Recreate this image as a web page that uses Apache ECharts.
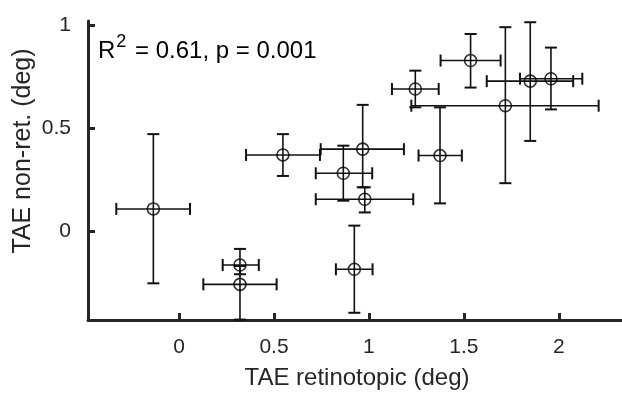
<!DOCTYPE html>
<html>
<head>
<meta charset="utf-8">
<script src="https://cdn.jsdelivr.net/npm/echarts@6/dist/echarts.min.js"></script>
<style>html,body{margin:0;padding:0;background:#fff;}#c{width:622px;height:393px;}</style>
</head>
<body>
<div id="c"></div>
<script>
// Data
var xs   = [-0.135, 0.321, 0.321, 0.547, 0.865, 0.967, 0.978, 0.923, 1.244, 1.374, 1.535, 1.718, 1.849, 1.958];
var ys   = [ 0.107,-0.165,-0.259, 0.369, 0.280, 0.397, 0.154,-0.186, 0.689, 0.366, 0.827, 0.608, 0.727, 0.739];
var xLo  = [-0.330, 0.230, 0.128, 0.353, 0.720, 0.746, 0.720, 0.826, 1.121, 1.261, 1.377, 1.223, 1.620, 1.795];
var xHi  = [ 0.058, 0.420, 0.514, 0.742, 1.017, 1.184, 1.233, 1.019, 1.367, 1.489, 1.693, 2.209, 2.075, 2.123];
var yLo  = [-0.254,-0.210,-0.430, 0.267, 0.147, 0.212, 0.090,-0.397, 0.600, 0.134, 0.696, 0.232, 0.437, 0.590];
var yHi  = [ 0.470,-0.087,-0.170, 0.470, 0.414, 0.612, 0.212, 0.026, 0.778, 0.600, 0.956, 0.989, 1.013, 0.890];
var xTicks = [0, 0.5, 1, 1.5, 2];
var yTicks = [0, 0.5, 1];
var statText = ['R', '2', ' = 0.61, p = 0.001'];
var xTitle = 'TAE retinotopic (deg)';
var yTitle = 'TAE non-ret. (deg)';

var FONT = '"Liberation Sans", Arial, Helvetica, sans-serif';
var AX = '#262626';
var pts = xs.map(function (x, i) { return [x, ys[i]]; });
var errData = xs.map(function (x, i) { return [x, ys[i], xLo[i], xHi[i], yLo[i], yHi[i]]; });

var chart = echarts.init(document.getElementById('c'), null, {renderer: 'canvas'});
chart.setOption({
  animation: false,
  backgroundColor: '#fff',
  grid: {left: 88, right: 0, top: 21, bottom: 73},
  xAxis: {
    type: 'value', min: -0.479, max: 2.332,
    axisLine: {show: true, onZero: false, lineStyle: {color: AX, width: 3}},
    axisTick: {show: true, inside: true, length: 7, lineStyle: {color: AX, width: 3}, customValues: xTicks},
    axisLabel: {color: AX, fontSize: 21, fontFamily: FONT, margin: 17, customValues: xTicks},
    splitLine: {show: false}
  },
  yAxis: {
    type: 'value', min: -0.432, max: 1.019,
    axisLine: {show: true, onZero: false, lineStyle: {color: AX, width: 3}},
    axisTick: {show: true, inside: true, length: 7, lineStyle: {color: AX, width: 3}, customValues: yTicks},
    axisLabel: {color: AX, fontSize: 21, fontFamily: FONT, margin: 17, customValues: yTicks},
    splitLine: {show: false}
  },
  graphic: [
    {type: 'text', x: 357, y: 378, style: {text: xTitle, fill: AX, font: '24px ' + FONT, align: 'center', verticalAlign: 'middle'}},
    {type: 'text', x: 23, y: 151, rotation: Math.PI / 2, style: {text: yTitle, fill: AX, font: '25px ' + FONT, align: 'center', verticalAlign: 'middle'}},
    {type: 'text', x: 98, y: 33, style: {
      text: '{r|' + statText[0] + '}{s|' + statText[1] + '}{r|' + statText[2] + '}',
      rich: {
        r: {fontSize: 24, fontFamily: FONT, fill: '#000', color: '#000', lineHeight: 30, verticalAlign: 'bottom'},
        s: {fontSize: 18, fontFamily: FONT, fill: '#000', color: '#000', lineHeight: 18, verticalAlign: 'top', padding: [0, 2, 0, 1]}
      }
    }}
  ],
  series: [
    {
      type: 'custom',
      data: errData,
      z: 2,
      renderItem: function (params, api) {
        var x = api.value(0), y = api.value(1);
        var pL = api.coord([api.value(2), y]);
        var pR = api.coord([api.value(3), y]);
        var pB = api.coord([x, api.value(4)]);
        var pT = api.coord([x, api.value(5)]);
        var c = 6;
        function ln(x1, y1, x2, y2, w) {
          return {type: 'line', shape: {x1: x1, y1: y1, x2: x2, y2: y2}, style: {stroke: '#111', lineWidth: w || 1.6}};
        }
        return {type: 'group', children: [
          ln(pL[0], pL[1], pR[0], pR[1]),
          ln(pL[0], pL[1] - c, pL[0], pL[1] + c, 2),
          ln(pR[0], pR[1] - c, pR[0], pR[1] + c, 2),
          ln(pB[0], pB[1], pT[0], pT[1]),
          ln(pB[0] - c, pB[1], pB[0] + c, pB[1], 2),
          ln(pT[0] - c, pT[1], pT[0] + c, pT[1], 2)
        ]};
      }
    },
    {
      type: 'scatter',
      data: pts,
      z: 3,
      symbol: 'circle',
      symbolSize: 12,
      itemStyle: {color: 'rgba(0,0,0,0)', borderColor: '#000', borderWidth: 1.6},
      emphasis: {disabled: true}
    }
  ]
});
</script>
</body>
</html>
